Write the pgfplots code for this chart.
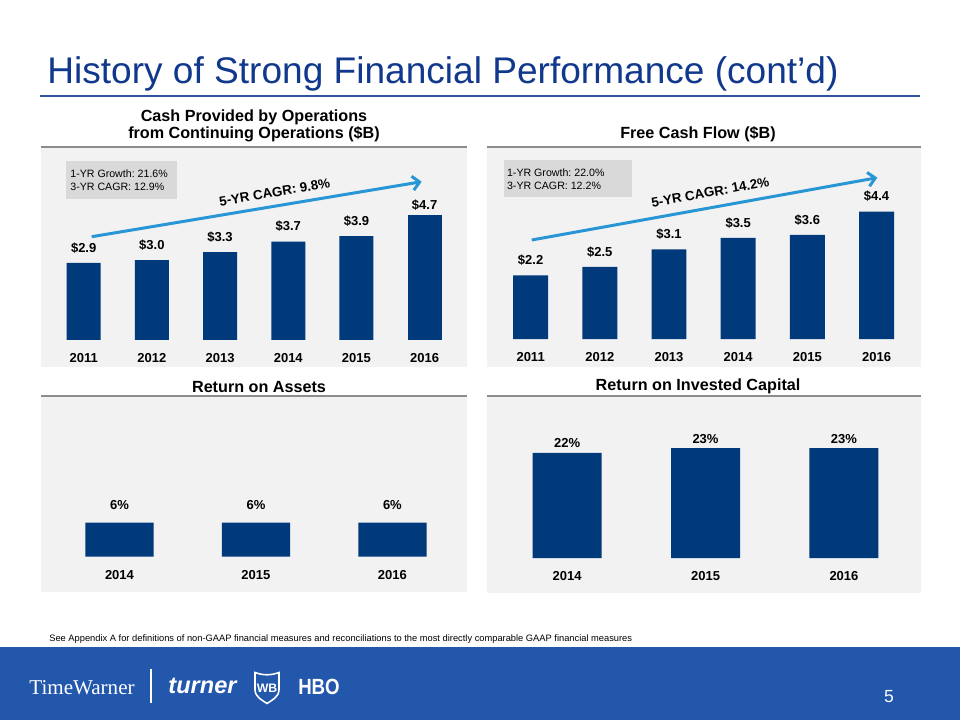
\documentclass[border=0pt]{standalone}
\usepackage{fontspec}
\setmainfont{Liberation Sans}
\newfontfamily\seriffont{Liberation Serif}
\usepackage{pgfplots}
\usepackage{pgfplotstable}
\pgfplotsset{compat=1.18}
\usetikzlibrary{arrows.meta}
\definecolor{navy}{RGB}{0,58,122}
\definecolor{titleblue}{RGB}{16,56,140}
\definecolor{ruleblue}{RGB}{46,84,160}
\definecolor{arrowblue}{RGB}{40,150,212}
\definecolor{footblue}{RGB}{34,87,172}
\definecolor{panelbg}{RGB}{242,242,242}
\definecolor{boxgray}{RGB}{217,217,217}
\definecolor{rulegray}{RGB}{140,140,140}

\pgfplotstableread{
x y lab
0 2.9 2.9
1 3.0 3.0
2 3.3 3.3
3 3.7 3.7
4 3.9 3.9
}\cpoa
\pgfplotstableread{
x y lab
5 4.7 4.7
}\cpob
\pgfplotstableread{
x y lab
0 2.2 2.2
1 2.5 2.5
2 3.1 3.1
3 3.5 3.5
4 3.6 3.6
5 4.4 4.4
}\fcf
\pgfplotstableread{
x y lab
0 6 6
1 6 6
2 6 6
}\roa
\pgfplotstableread{
x y lab
0 22 22
1 23 23
2 23 23
}\roic

\pgfplotsset{
  panel/.style={
    scale only axis, clip=false, ybar, bar shift=0pt, ymin=0,
    axis line style={draw=none}, major tick length=0pt, ytick=\empty,
    xticklabel style={font=\fontsize{7.4}{8}\selectfont\bfseries, yshift=-4.2pt, text=black},
    point meta=explicit symbolic,
    nodes near coords style={font=\fontsize{7.4}{8}\selectfont\bfseries, text=black},
  }
}

\newcommand{\bodyfont}{\fontsize{9.2}{11}\selectfont\bfseries}

\begin{document}
\begin{tikzpicture}
\begin{scope}[x=0.02cm,y=-0.02cm]
  \fill[white] (0,0) rectangle (960,720);
  % title
  \node[anchor=base west, inner sep=0, text=titleblue, font=\fontsize{21.1}{24}\selectfont] at (47,83.3) {History of Strong Financial Performance (cont’d)};
  \draw[ruleblue, line width=0.8pt] (40,96) -- (920,96);
  % panel backgrounds
  \fill[panelbg] (41,148) rectangle (467,367);
  \fill[panelbg] (487,148) rectangle (921,367);
  \fill[panelbg] (41,397) rectangle (467,592);
  \fill[panelbg] (487,397) rectangle (921,593);
  \draw[rulegray, line width=1.2pt] (41,147) -- (467,147);
  \draw[rulegray, line width=1.2pt] (487,147) -- (921,147);
  \draw[rulegray, line width=1.2pt] (41,396) -- (467,396);
  \draw[rulegray, line width=1.2pt] (487,396) -- (921,396);
  % panel titles
  \node[font=\bodyfont, align=center, inner sep=0] at (254,125.8) {Cash Provided by Operations\\[-1.3pt]from Continuing Operations (\$B)};
  \node[font=\bodyfont, inner sep=0] at (698,134.3) {Free Cash Flow (\$B)};
  \node[font=\bodyfont, inner sep=0] at (259,386.7) {Return on Assets};
  \node[font=\bodyfont, inner sep=0] at (698,386) {Return on Invested Capital};
  % grey boxes
  \fill[boxgray] (65.7,161) rectangle (176.7,199);
  \fill[boxgray] (504,160) rectangle (631.7,197.3);
  \node[anchor=west, inner sep=0, font=\fontsize{6.05}{7}\selectfont] at (70,174) {1-YR Growth:\ 21.6\%};
  \node[anchor=west, inner sep=0, font=\fontsize{6.05}{7}\selectfont] at (70,187.3) {3-YR CAGR:\ 12.9\%};
  \node[anchor=west, inner sep=0, font=\fontsize{6.05}{7}\selectfont] at (506.7,172.7) {1-YR Growth:\ 22.0\%};
  \node[anchor=west, inner sep=0, font=\fontsize{6.05}{7}\selectfont] at (506.7,185.7) {3-YR CAGR:\ 12.2\%};
  % CAGR arrows
  \draw[arrowblue, line width=1.7pt, -{Straight Barb[length=4pt,width=8pt]}] (91.7,236.7) -- (421.7,181.7);
  \draw[arrowblue, line width=1.7pt, -{Straight Barb[length=4pt,width=8pt]}] (531.7,240) -- (877.3,177.7);
  \node[rotate=9.5, font=\fontsize{7.6}{9}\selectfont\bfseries, inner sep=0] at (274.7,192.3) {5-YR CAGR: 9.8\%};
  \node[rotate=10.2, font=\fontsize{7.6}{9}\selectfont\bfseries, inner sep=0] at (710.3,192.3) {5-YR CAGR: 14.2\%};
  % footnote
  \node[anchor=west, inner sep=0, font=\fontsize{5.3}{6}\selectfont] at (49,639) {See Appendix A for definitions of non-GAAP financial measures and reconciliations to the most directly comparable GAAP financial measures};
  % footer
  \fill[footblue] (0,647) rectangle (960,720);
  \node[text=white, inner sep=0, font=\seriffont\fontsize{12}{12}\selectfont] at (82,688) {TimeWarner};
  \draw[white, line width=0.6pt] (151,669) -- (151,703);
  \node[text=white, inner sep=0, font=\fontsize{13.4}{14}\selectfont\bfseries\itshape] at (202.5,686) {turner};
  \begin{scope}[shift={(267,687.5)}]
    \draw[white, line width=0.9pt, fill=footblue] (-12,-15) .. controls (-4,-12) and (4,-12) .. (12,-15) -- (12,2) .. controls (12,10) and (4,13) .. (0,16) .. controls (-4,13) and (-12,10) .. (-12,2) -- cycle;
    \node[text=white, inner sep=0, font=\fontsize{7}{7}\selectfont\bfseries] at (0,1) {WB};
  \end{scope}
  \node[text=white, inner sep=0, xscale=0.85, font=\fontsize{12.5}{13}\selectfont\bfseries] at (319,686.7) {HBO};
  \node[text=white, inner sep=0, font=\fontsize{10}{11}\selectfont] at (889,697) {5};
\end{scope}

% Panel 1: Cash provided by operations
\begin{axis}[panel, at={(0.82cm,-6.8cm)}, anchor=south west,
  width=8.52cm, height=3.8cm, xmin=-0.626, xmax=5.620, ymax=7.143,
  xtick={0,1,2,3,4,5}, xticklabels={2011,2012,2013,2014,2015,2016},
  nodes near coords={\$\pgfplotspointmeta}]
\addplot[fill=navy, draw=none, bar width=0.68cm, nodes near coords style={yshift=2pt}] table[x=x, y=y, meta=lab] {\cpoa};
\addplot[fill=navy, draw=none, bar width=0.68cm, nodes near coords style={yshift=-0.8pt}] table[x=x, y=y, meta=lab] {\cpob};
\end{axis}

% Panel 2: Free cash flow
\begin{axis}[panel, at={(9.74cm,-6.786cm)}, anchor=south west,
  width=8.68cm, height=3.866cm, xmin=-0.632, xmax=5.640, ymax=6.666,
  xtick={0,1,2,3,4,5}, xticklabels={2011,2012,2013,2014,2015,2016},
  nodes near coords={\$\pgfplotspointmeta},
  nodes near coords style={yshift=2pt}]
\addplot[fill=navy, draw=none, bar width=0.70cm] table[x=x, y=y, meta=lab] {\fcf};
\end{axis}

% Panel 3: Return on assets
\begin{axis}[panel, at={(0.82cm,-11.134cm)}, anchor=south west,
  width=8.52cm, height=3.174cm, xmin=-0.575, xmax=2.546, ymax=28.0,
  xtick={0,1,2}, xticklabels={2014,2015,2016},
  nodes near coords={\pgfplotspointmeta\%},
  nodes near coords style={yshift=3.6pt}]
\addplot[fill=navy, draw=none, bar width=1.366cm] table[x=x, y=y, meta=lab] {\roa};
\end{axis}

% Panel 4: Return on invested capital
\begin{axis}[panel, at={(9.74cm,-11.166cm)}, anchor=south west,
  width=8.68cm, height=3.206cm, xmin=-0.579, xmax=2.555, ymax=33.47,
  xtick={0,1,2}, xticklabels={2014,2015,2016},
  nodes near coords={\pgfplotspointmeta\%},
  nodes near coords style={yshift=-0.8pt}]
\addplot[fill=navy, draw=none, bar width=1.38cm] table[x=x, y=y, meta=lab] {\roic};
\end{axis}
\end{tikzpicture}
\end{document}
